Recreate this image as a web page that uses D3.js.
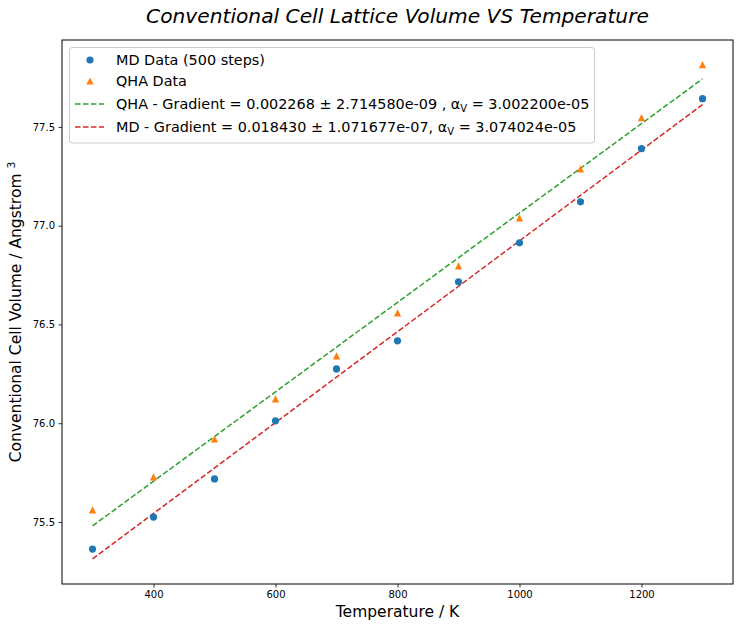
<!DOCTYPE html>
<html><head><meta charset="utf-8">
<script src="https://cdn.jsdelivr.net/npm/d3@7"></script>
<style>body{margin:0;background:#fff;} text{font-family:"DejaVu Sans",sans-serif;}</style>
</head><body>
<svg id="c" width="742" height="627"></svg>
<script>
const temps = [300,400,500,600,700,800,900,1000,1100,1200,1300];
const mdVol = [75.363,75.525,75.718,76.012,76.275,76.417,76.716,76.913,77.121,77.390,77.643];
const qhaVol = [75.561,75.728,75.920,76.123,76.341,76.559,76.797,77.040,77.288,77.547,77.815];
const fitT = [300,1300];
const qhaFit = [75.48,77.743];
const mdFit = [75.313,77.613];
const xTicks = [400,600,800,1000,1200];
const yTicks = [75.5,76.0,76.5,77.0,77.5];
const colors = {md:"#1f77b4", qha:"#ff7f0e", qhaFit:"#2ca02c", mdFit:"#d62728"};

const svg = d3.select("#c");
const L=62, R=733, T=40, B=584;
const x = d3.scaleLinear().domain([250,1350]).range([L,R]);
const y = d3.scaleLinear().domain([75.186,77.94]).range([B,T]);

// axes
const xa = svg.append("g").attr("transform",`translate(0,${B})`)
  .call(d3.axisBottom(x).tickValues(xTicks).tickSize(3.5).tickPadding(3.5).tickFormat(d3.format("d")));
const ya = svg.append("g").attr("transform",`translate(${L},0)`)
  .call(d3.axisLeft(y).tickValues(yTicks).tickSize(3.5).tickPadding(3.5).tickFormat(d3.format(".1f")));
[xa,ya].forEach(a=>{a.select(".domain").remove(); a.selectAll("text").attr("font-size",10).attr("fill","#000").style("font-family","DejaVu Sans");
  a.selectAll("line").attr("stroke","#000").attr("stroke-width",0.8);});

// lines
const line = d3.line().x(d=>x(d[0])).y(d=>y(d[1]));
svg.append("path").datum(fitT.map((t,i)=>[t,qhaFit[i]])).attr("d",line)
  .attr("fill","none").attr("stroke",colors.qhaFit).attr("stroke-width",1.5).attr("stroke-dasharray","5.55,2.4");
svg.append("path").datum(fitT.map((t,i)=>[t,mdFit[i]])).attr("d",line)
  .attr("fill","none").attr("stroke",colors.mdFit).attr("stroke-width",1.5).attr("stroke-dasharray","5.55,2.4");

// points
const MR = 3.6;
svg.append("g").selectAll("circle").data(temps).join("circle")
  .attr("cx",d=>x(d)).attr("cy",(d,i)=>y(mdVol[i])).attr("r",MR).attr("fill",colors.md);
const tri = `M0,${-MR}L${-MR},${MR}L${MR},${MR}Z`;
svg.append("g").selectAll("path").data(temps).join("path")
  .attr("transform",(d,i)=>`translate(${x(d)},${y(qhaVol[i])})`).attr("d",tri).attr("fill",colors.qha);

// frame
svg.append("rect").attr("x",L).attr("y",T).attr("width",R-L).attr("height",B-T)
  .attr("fill","none").attr("stroke","#000").attr("stroke-width",1);

// legend
const lg = svg.append("g");
lg.append("rect").attr("x",69.5).attr("y",47.5).attr("width",525).attr("height",95.5).attr("rx",3)
  .attr("fill","#fff").attr("fill-opacity",0.8).attr("stroke","#cccccc").attr("stroke-width",1);
const rows=[60,81,104,127];
lg.append("circle").attr("cx",90).attr("cy",rows[0]).attr("r",MR).attr("fill",colors.md);
lg.append("path").attr("transform",`translate(90,${rows[1]})`).attr("d",tri).attr("fill",colors.qha);
lg.append("line").attr("x1",75).attr("x2",104).attr("y1",rows[2]).attr("y2",rows[2]).attr("stroke",colors.qhaFit).attr("stroke-width",1.5).attr("stroke-dasharray","5.55,2.4");
lg.append("line").attr("x1",75).attr("x2",104).attr("y1",rows[3]).attr("y2",rows[3]).attr("stroke",colors.mdFit).attr("stroke-width",1.5).attr("stroke-dasharray","5.55,2.4");
function lt(yy){return lg.append("text").attr("x",116).attr("y",yy+5).attr("font-size",14.4).attr("fill","#000");}
lt(rows[0]).text("MD Data (500 steps)");
lt(rows[1]).text("QHA Data");
let t3=lt(rows[2]); t3.append("tspan").text("QHA - Gradient = 0.002268 \u00b1 2.714580e-09 , \u03b1");
t3.append("tspan").attr("font-size",10).attr("dy",3).text("V");
t3.append("tspan").attr("dy",-3).text(" = 3.002200e-05");
let t4=lt(rows[3]); t4.append("tspan").text("MD - Gradient = 0.018430 \u00b1 1.071677e-07, \u03b1");
t4.append("tspan").attr("font-size",10).attr("dy",3).text("V");
t4.append("tspan").attr("dy",-3).text(" = 3.074024e-05");

// titles
svg.append("text").attr("x",(L+R)/2).attr("y",23).attr("text-anchor","middle").attr("font-size",20.2)
  .attr("font-style","italic").text("Conventional Cell Lattice Volume VS Temperature");
svg.append("text").attr("x",(L+R)/2).attr("y",617).attr("text-anchor","middle").attr("font-size",15.5).text("Temperature / K");
const yl = svg.append("text").attr("transform",`translate(21,${(T+B)/2}) rotate(-90)`).attr("text-anchor","middle").attr("font-size",15.5);
yl.append("tspan").text("Conventional Cell Volume / Angstrom ");
yl.append("tspan").attr("font-size",10.8).attr("dy",-6).text("3");
</script>
</body></html>
